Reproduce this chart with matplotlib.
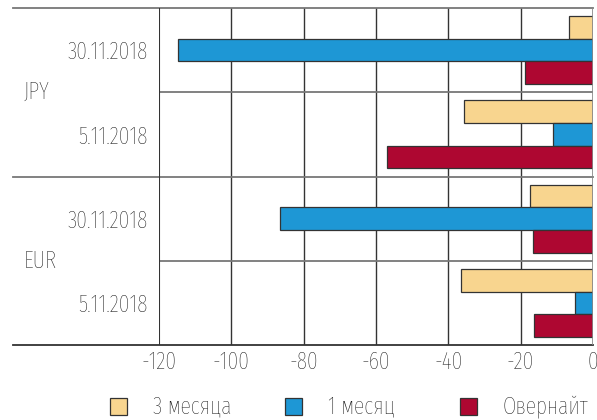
import numpy as np
import matplotlib
matplotlib.use("Agg")
import matplotlib.pyplot as plt
from matplotlib.patches import Rectangle

plt.rcParams['font.family'] = ['Fira Sans Extra Condensed', 'DejaVu Sans']
plt.rcParams['font.weight'] = 'light'

# rows top to bottom
currencies = ["JPY", "EUR"]
dates = ["30.11.2018", "5.11.2018", "30.11.2018", "5.11.2018"]
series_names = ["3 месяца", "1 месяц", "Овернайт"]
three_month = [-6.6, -35.7, -17.4, -36.5]
one_month = [-114.7, -11.1, -86.5, -5.0]
overnight = [-18.8, -57.0, -16.5, -16.3]
colors = ["#F8D58F", "#1E97D5", "#AE0731"]
FS = 17
TXT = "#111111"

fig = plt.figure(figsize=(5.97, 4.20), dpi=100)
ax = fig.add_axes([159 / 597, 75 / 420, 434 / 597, 337 / 420])

y = np.arange(len(dates)) + 0.5
h = 0.27
for i, (vals, c) in enumerate(zip([three_month, one_month, overnight], colors)):
    ax.barh(y + (i - 1) * h, vals, height=h, color=c, edgecolor="#333333",
            linewidth=0.9, zorder=3)

ax.set_xlim(-120, 0)
ax.set_ylim(4, 0)

# vertical grid
for x in range(-100, 0, 20):
    ax.axvline(x, color="#333333", lw=1.0, zorder=1)
ax.axvline(0, color="#888888", lw=1.2, zorder=4)

# horizontal separators; the ones between currencies reach into the label area
for yy in [1, 3]:
    ax.axhline(yy, color="#777777", lw=1.3, zorder=1)
for yy in [0, 2, 4]:
    ax.plot([-146 / 434, 1], [yy, yy], transform=ax.get_yaxis_transform(),
            color="#777777" if yy != 4 else "#333333", lw=1.3,
            clip_on=False, zorder=1)

for s in ax.spines.values():
    s.set_visible(False)
ax.axvline(-120, color="#333333", lw=1.5, zorder=4)

ax.set_xticks(range(-120, 1, 20))
ax.set_xticklabels([str(v) for v in range(-120, 1, 20)])
ax.set_yticks(y)
ax.set_yticklabels(dates)
ax.tick_params(axis="both", length=0, labelsize=FS, labelcolor=TXT)
ax.tick_params(axis="y", pad=8)
ax.tick_params(axis="x", pad=4)

for k, cur in enumerate(currencies):
    ax.text(-135 / 434, 1 + 2 * k, cur, transform=ax.get_yaxis_transform(),
            ha="left", va="center", fontsize=FS, color=TXT)

# legend
leg_x = [110, 285, 460]
for xs, name, c in zip(leg_x, series_names, colors):
    fig.patches.append(Rectangle((xs / 597, 5 / 420), 17 / 597, 17 / 420,
                                 transform=fig.transFigure, facecolor=c,
                                 edgecolor="#333333", linewidth=0.9))
    fig.text((xs + 43) / 597, 13 / 420, name, ha="left", va="center",
             fontsize=FS, color=TXT)

fig.savefig("out.png", dpi=100)
